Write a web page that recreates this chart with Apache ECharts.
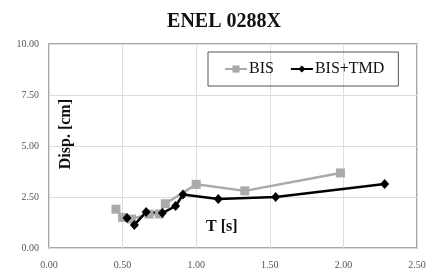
<!DOCTYPE html>
<html>
<head>
<meta charset="utf-8">
<script src="https://cdn.jsdelivr.net/npm/echarts@6/dist/echarts.min.js"></script>
<style>
  html, body { margin: 0; padding: 0; background: #fff; }
  #chart { width: 430px; height: 272px; }
</style>
</head>
<body>
<div id="chart"></div>
<script>
const xTicks = [0, 0.5, 1.0, 1.5, 2.0, 2.5];
const yTicks = [0, 2.5, 5.0, 7.5, 10.0];

// BIS (gray squares)
const bisT = [0.455, 0.50, 0.56, 0.68, 0.75, 0.79, 1.00, 1.33, 1.98];
const bisD = [1.90, 1.50, 1.42, 1.66, 1.67, 2.17, 3.12, 2.80, 3.68];

// BIS+TMD (black diamonds)
const tmdT = [0.53, 0.58, 0.66, 0.77, 0.86, 0.91, 1.15, 1.54, 2.28];
const tmdD = [1.47, 1.13, 1.77, 1.71, 2.06, 2.62, 2.40, 2.50, 3.14];

const font = "'Liberation Serif', 'DejaVu Serif', serif";
const chart = echarts.init(document.getElementById("chart"));

chart.setOption({
  animation: false,
  title: {
    text: "ENEL 0288X",
    left: 219,
    textAlign: "center",
    top: 7,
    textStyle: { fontFamily: font, fontWeight: "bold", fontSize: 20, color: "#111" },
  },
  grid: {
    left: 49, right: 13, top: 44, bottom: 24,
    outerBoundsMode: "none", containLabel: false,
    show: true, borderColor: "#8a8a8a", borderWidth: 1.5,
  },
  legend: {
    left: 208, top: 52, width: 180,
    padding: [9, 14, 9, 16],
    borderColor: "#555", borderWidth: 1,
    itemWidth: 22, itemHeight: 9, itemGap: 16,
    textStyle: { fontFamily: font, fontSize: 16, color: "#111", padding: [0, 0, 0, -3] },
    data: ["BIS", "BIS+TMD"],
  },
  graphic: [
    {
      type: "text", left: 58, top: 99, rotation: Math.PI / 2,
      style: { text: "Disp. [cm]", fontFamily: font, fontWeight: "bold", fontSize: 16, fill: "#111" },
    },
    {
      type: "text", left: 206, top: 219,
      style: { text: "T [s]", fontFamily: font, fontWeight: "bold", fontSize: 16, fill: "#111" },
    },
  ],
  xAxis: {
    type: "value", min: 0, max: 2.5, interval: 0.5,
    axisLine: { show: false },
    axisTick: { show: false },
    axisLabel: { fontFamily: font, fontSize: 10, color: "#555", margin: 12,
      formatter: (v) => v.toFixed(2) },
    splitLine: { lineStyle: { color: "#dedede", width: 1 } },
  },
  yAxis: {
    type: "value", min: 0, max: 10, interval: 2.5,
    axisLine: { show: false },
    axisTick: { show: false },
    axisLabel: { fontFamily: font, fontSize: 10, color: "#555", margin: 10,
      formatter: (v) => v.toFixed(2) },
    splitLine: { lineStyle: { color: "#dedede", width: 1 } },
  },
  series: [
    {
      name: "BIS", type: "line",
      data: bisT.map((t, i) => [t, bisD[i]]),
      symbol: "rect", symbolSize: 9,
      lineStyle: { color: "#aaaaaa", width: 2.5 },
      itemStyle: { color: "#aaaaaa" },
    },
    {
      name: "BIS+TMD", type: "line",
      data: tmdT.map((t, i) => [t, tmdD[i]]),
      symbol: "diamond", symbolSize: [9, 10],
      lineStyle: { color: "#000", width: 2.5 },
      itemStyle: { color: "#000" },
    },
  ],
});
</script>
</body>
</html>
